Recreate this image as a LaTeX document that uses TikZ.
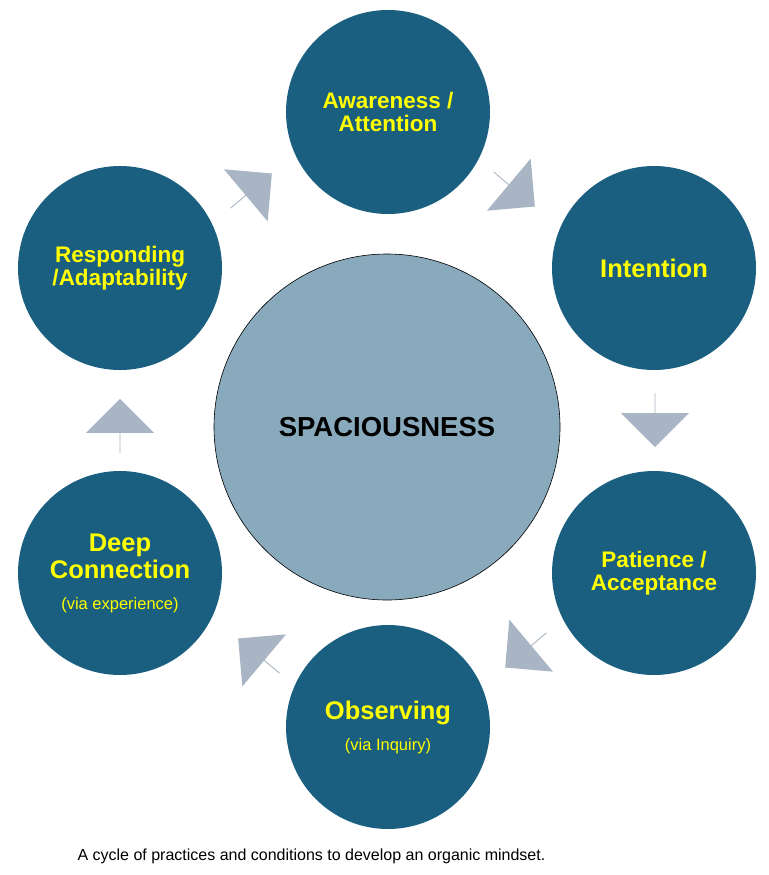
\documentclass[tikz,border=0pt]{standalone}
\usepackage{fontspec}
\setmainfont{Liberation Sans}
\usetikzlibrary{shapes.arrows}
\definecolor{petrol}{HTML}{1A5F80}
\definecolor{mist}{HTML}{89AABD}
\definecolor{arrowgrey}{HTML}{A9B5C4}
\definecolor{lemon}{HTML}{FFFF00}
\newcommand{\notetext}[1]{{\fontsize{16.5}{20}\selectfont\mdseries #1}}

\begin{document}
\begin{tikzpicture}[
  x=1pt,
  y=-1pt,
  ring/.style={circle, fill=petrol, minimum size=204pt, inner sep=0pt, align=center, text=lemon,
    font=\fontsize{22.5}{23.5}\selectfont\bfseries},
  big/.style={font=\fontsize{25.5}{27}\selectfont\bfseries},
  flow/.style={single arrow, fill=arrowgrey, minimum width=68pt, minimum height=54pt,
    single arrow head extend=15pt, inner sep=0pt}
]
\useasboundingbox (0,0) rectangle (768,875);

% Kern
\node[circle, draw=black, line width=0.6pt, fill=mist, minimum size=346pt,
  font=\fontsize{27.5}{30}\selectfont\bfseries] (space) at (387,427) {SPACIOUSNESS};

% Ring van praktijken
\node[ring] (aware) at (388,112) {Awareness /\\Attention};
\node[ring, big] (intent) at (654,268) {Intention};
\node[ring] (patience) at (654,573) {Patience /\\Acceptance};
\node[ring, big] (observe) at (388,727) {Observing\\[4pt]\notetext{(via Inquiry)}};
\node[ring, big] (deep) at (120,573) {Deep\\Connection\\[4pt]\notetext{(via experience)}};
\node[ring] (respond) at (120,268) {Responding\\/Adaptability};

% Pijlen
\node[flow, rotate=-40] (s1) at (514,189) {};
\node[flow, rotate=-90] (s2) at (655,420) {};
\node[flow, rotate=-140] (s3) at (526,650) {};
\node[flow, rotate=140] (s4) at (259,656) {};
\node[flow, rotate=90] (s5) at (120,426) {};
\node[flow, rotate=40] (s6) at (251,191) {};

% Onderschrift
\node[anchor=west, font=\fontsize{16}{18}\selectfont] (caption) at (74,856)
  {A cycle of practices and conditions to develop an organic mindset.};
\end{tikzpicture}
\end{document}
